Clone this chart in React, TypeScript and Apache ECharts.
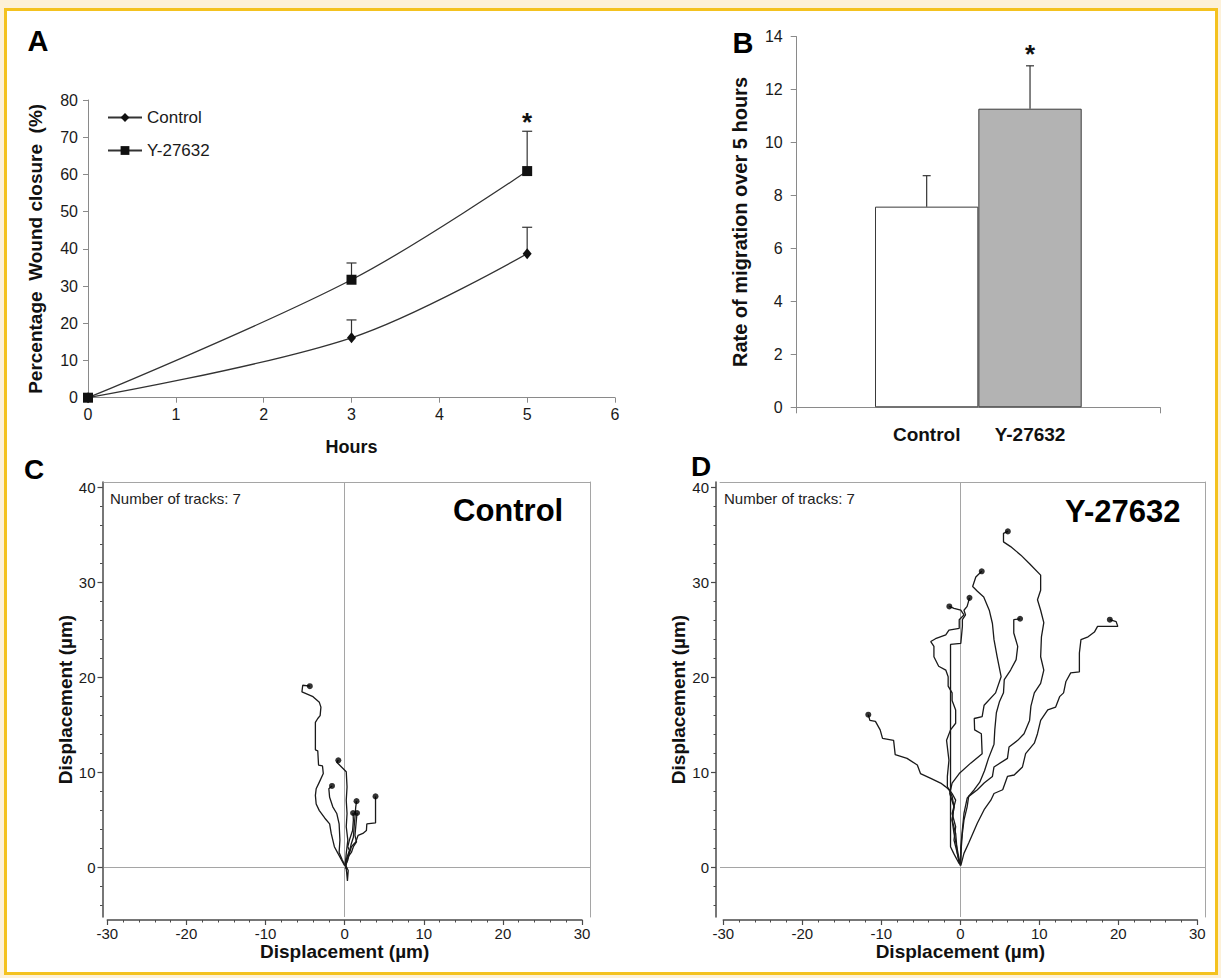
import { useEffect, useRef } from "react";
import * as echarts from "echarts";

const FONT = '"Liberation Sans", Arial, Helvetica, sans-serif';

// ---------- Panel A: wound closure ----------
const hours = [0, 3, 5];
const controlClosure = [0, 16.1, 38.7];
const controlClosureErr = [0, 4.8, 7.1];
const y27632Closure = [0, 31.7, 60.9];
const y27632ClosureErr = [0, 4.5, 10.7];
const y27632ClosureSig = [0, 0, 1];

// ---------- Panel B: migration rate ----------
const groups = ["Control", "Y-27632"];
const migrationRate = [7.58, 11.28];
const migrationErr = [1.17, 1.62];
const migrationSig = [0, 1];
const barFills = ["#ffffff", "#b3b3b3"];

// ---------- Panels C / D: displacement ticks ----------
const dispXTicks = [-30, -20, -10, 0, 10, 20, 30];
const dispYMinor = [-4, -2, 0, 2, 4, 6, 8, 10, 12, 14, 16, 18, 20, 22, 24, 26, 28, 30, 32, 34, 36, 38, 40];
const dispYMajor = [0, 10, 20, 30, 40];

// tracks: first point is the end point (dot), last point is the origin
const controlTracks: number[][][] = [
  [[-4.4, 19.1], [-5.3, 19.2], [-5.4, 18.5], [-4.0, 18.0], [-3.2, 17.4], [-3.0, 16.9], [-3.1, 16.0], [-3.4, 15.7], [-3.7, 15.3], [-3.7, 12.4], [-3.4, 12.3], [-3.3, 10.8], [-2.8, 10.7], [-2.7, 9.9], [-3.2, 9.0], [-3.6, 8.3], [-3.7, 7.6], [-3.6, 6.7], [-3.2, 6.0], [-2.5, 5.2], [-1.9, 4.6], [-1.7, 3.6], [-1.3, 2.2], [-0.85, 1.5], [-0.4, 0.8], [0, 0.2]],
  [[-0.8, 11.3], [-1.0, 11.1], [-0.4, 10.6], [0.2, 10.1], [0.3, 8.5], [0.2, 7.1], [0.3, 5.7], [0.2, 4.3], [0.4, 2.9], [0.2, 1.5], [0.1, 0.5], [0.25, -0.5], [0.35, -1.4], [0.45, -0.3], [0.1, 0.3]],
  [[-1.6, 8.6], [-2.0, 8.3], [-1.9, 7.4], [-1.5, 6.4], [-1.0, 5.7], [-0.7, 4.6], [-0.6, 2.9], [-0.7, 1.6], [-0.3, 0.8], [0, 0.3]],
  [[3.9, 7.5], [3.9, 4.7], [2.8, 4.6], [2.75, 3.9], [2.3, 3.6], [1.7, 3.4], [1.4, 2.7], [0.85, 2.2], [0.6, 1.5], [0.4, 0.8], [0.1, 0.2]],
  [[1.5, 7.0], [1.4, 6.4], [1.3, 5.3], [1.2, 4.3], [1.1, 3.2], [0.8, 2.4], [0.55, 1.5], [0.2, 0.6], [0.05, 0.2]],
  [[1.06, 5.75], [1.1, 5.0], [1.0, 3.9], [0.6, 2.9], [0.4, 2.2], [0.6, 1.8], [0.3, 1.1], [0.1, 0.6], [0.1, 0.2]],
  [[1.57, 5.75], [1.5, 5.2], [1.4, 4.3], [1.3, 3.4], [1.5, 2.7], [1.1, 2.2], [0.85, 1.6], [0.4, 1.1], [0.2, 0.4], [0.1, -0.1]],
];

const y27632Tracks: number[][][] = [
  [[6.05, 35.4], [5.5, 35.2], [5.5, 34.3], [6.4, 33.8], [7.7, 32.9], [8.8, 32.0], [10.2, 30.8], [10.2, 29.2], [10.0, 28.7], [9.8, 28.2], [10.2, 27.1], [10.6, 25.8], [10.3, 24.3], [10.2, 22.2], [10.6, 20.8], [10.2, 19.4], [9.4, 18.4], [8.97, 17.0], [8.8, 15.5], [8.1, 14.1], [7.3, 13.4], [6.2, 12.7], [6.0, 11.5], [4.3, 10.6], [4.1, 9.6], [3.05, 8.9], [2.2, 8.2], [1.1, 7.5], [0.9, 6.4], [0.5, 5.0], [0.3, 3.6], [0.17, 2.2], [0.1, 0.5], [0, 0.2]],
  [[2.75, 31.2], [2.0, 30.6], [1.6, 29.6], [2.2, 29.1], [3.0, 28.5], [3.7, 27.1], [4.1, 25.7], [4.3, 24.0], [4.7, 22.2], [5.2, 20.1], [4.5, 18.4], [3.05, 17.1], [2.8, 15.9], [1.8, 15.7], [1.85, 14.5], [2.7, 14.1], [2.8, 12.0], [1.35, 11.0], [-0.1, 9.9], [-1.0, 8.9], [-1.3, 7.8], [-0.76, 6.4], [-1.0, 5.0], [-0.55, 3.6], [-0.34, 1.5], [0, 0.3]],
  [[7.6, 26.2], [6.8, 26.1], [6.8, 24.7], [7.3, 23.3], [7.1, 21.9], [6.4, 20.8], [5.6, 19.8], [5.5, 18.4], [5.0, 17.5], [4.6, 16.3], [4.4, 14.5], [4.3, 13.0], [3.6, 11.5], [3.1, 10.2], [2.5, 9.0], [1.8, 8.2], [0.9, 7.3], [0.5, 5.7], [0.3, 4.0], [0.1, 2.2], [0.05, 0.3]],
  [[1.2, 28.4], [0.9, 27.5], [0.5, 27.1], [0.7, 26.6], [0.3, 26.1], [0.3, 25.4], [0.1, 23.6], [-1.2, 23.5], [-1.2, 2.2], [-0.8, 1.5], [-0.1, 0.4]],
  [[-1.35, 27.5], [-0.76, 27.3], [0.1, 27.1], [0.5, 26.6], [-0.1, 26.1], [-0.1, 25.2], [-1.4, 25.0], [-1.8, 24.5], [-3.1, 24.1], [-3.7, 23.8], [-3.3, 23.3], [-3.3, 22.2], [-2.7, 21.2], [-1.8, 20.8], [-1.5, 20.1], [-1.5, 19.1], [-1.0, 18.4], [-1.0, 17.6], [-0.55, 16.6], [-0.55, 15.2], [-1.2, 14.5], [-1.7, 13.4], [-1.4, 11.3], [-1.6, 9.6], [-1.6, 8.5], [-1.0, 7.8], [-0.55, 7.1], [-1.0, 5.7], [-0.55, 4.3], [-0.76, 2.9], [-0.34, 1.5], [-0.1, 0.5]],
  [[-11.6, 16.1], [-11.4, 15.5], [-10.7, 15.4], [-10.1, 14.5], [-9.8, 13.6], [-8.4, 13.4], [-8.2, 11.9], [-6.7, 11.5], [-5.4, 10.8], [-5.0, 9.9], [-3.7, 9.4], [-2.45, 8.9], [-1.8, 8.5], [-1.4, 8.2], [-1.0, 7.5], [-0.76, 6.4], [-1.0, 5.0], [-0.76, 3.6], [-0.34, 1.9], [0, 0.4]],
  [[18.95, 26.1], [19.75, 25.9], [19.96, 25.4], [19.1, 25.4], [17.4, 25.4], [17.0, 24.8], [16.2, 24.3], [15.3, 24.0], [15.1, 22.6], [15.1, 20.6], [14.0, 20.5], [13.4, 19.6], [13.1, 18.4], [12.6, 18.0], [12.1, 16.9], [11.1, 16.6], [10.2, 15.5], [9.8, 14.1], [9.4, 13.1], [8.3, 12.0], [7.9, 10.6], [6.85, 9.75], [6.0, 9.6], [5.4, 8.2], [4.3, 7.8], [3.9, 7.1], [3.05, 6.1], [2.2, 4.7], [1.1, 2.6], [0.5, 1.5], [0.1, 0.2]],
];

const AXIS_GRAY = "#8a8a8a";
const DARK = "#4a4a4a";
const TEXT = "#1a1a1a";

function errorBarRenderer(capHalf: number, starGap: number) {
  return (_params: any, api: any) => {
    const x = api.value(0);
    const y = api.value(1);
    const e = api.value(2);
    const sig = api.value(3);
    const base = api.coord([x, y]);
    const top = api.coord([x, y + e]);
    const style = { stroke: "#333", lineWidth: 1.2 };
    const children: any[] = [];
    if (e > 0) {
      children.push({ type: "line", shape: { x1: base[0], y1: base[1], x2: top[0], y2: top[1] }, style });
      children.push({ type: "line", shape: { x1: top[0] - capHalf, y1: top[1], x2: top[0] + capHalf, y2: top[1] }, style });
    }
    if (sig) {
      children.push({
        type: "text",
        x: top[0],
        y: top[1] - starGap,
        style: { text: "*", fontSize: 26, fontWeight: "bold", fontFamily: FONT, fill: "#111", textAlign: "center", textVerticalAlign: "middle" },
      });
    }
    return { type: "group", children };
  };
}

const DISP_YMIN = -5.2;
const DISP_YMAX = 40.6;

function frameX(grid: number, min: number, max: number) {
  return {
    type: "value", gridIndex: grid, position: "top", min, max,
    axisLine: { show: true, onZero: false, lineStyle: { color: "#a5a5a5", width: 1 } },
    axisTick: { show: false }, axisLabel: { show: false }, splitLine: { show: false },
  };
}
function scaleX(grid: number) {
  return {
    type: "value", gridIndex: grid, position: "bottom", offset: 3, min: dispXTicks[0], max: dispXTicks[dispXTicks.length - 1], interval: 10,
    axisLine: { show: true, onZero: false, lineStyle: { color: DARK, width: 1.5 } },
    axisTick: { show: true, length: 5, lineStyle: { color: DARK, width: 1.2 } },
    minorTick: { show: true, splitNumber: 5, length: 2.5, lineStyle: { color: DARK, width: 1 } },
    axisLabel: { fontSize: 15, color: TEXT, margin: 6, fontFamily: FONT },
    splitLine: { show: false }, minorSplitLine: { show: false },
    name: "Displacement (µm)", nameLocation: "middle", nameGap: 20,
    nameTextStyle: { fontSize: 19, fontWeight: "bold", color: "#111", fontFamily: FONT },
  };
}
function tickY(grid: number, offset: number) {
  return {
    type: "value", gridIndex: grid, position: "left", offset, min: DISP_YMIN, max: DISP_YMAX,
    axisLine: { show: true, onZero: false, lineStyle: { color: DARK, width: 1.5 } },
    axisTick: { show: true, customValues: dispYMinor, length: 2.5, lineStyle: { color: DARK, width: 1 } },
    axisLabel: { show: true, customValues: dispYMajor, fontSize: 15, color: TEXT, margin: 7, fontFamily: FONT },
    splitLine: { show: false },
    name: "Displacement (µm)", nameLocation: "middle", nameRotate: 90, nameGap: 27,
    nameTextStyle: { fontSize: 19, fontWeight: "bold", color: "#111", fontFamily: FONT },
  };
}
function majorY(grid: number, offset: number) {
  return {
    type: "value", gridIndex: grid, position: "left", offset, min: DISP_YMIN, max: DISP_YMAX,
    axisLine: { show: false, onZero: false },
    axisTick: { show: true, customValues: dispYMajor, length: 5, lineStyle: { color: DARK, width: 1.2 } },
    axisLabel: { show: false }, splitLine: { show: false },
  };
}
function rightY(grid: number) {
  return {
    type: "value", gridIndex: grid, position: "right", min: DISP_YMIN, max: DISP_YMAX,
    axisLine: { show: true, onZero: false, lineStyle: { color: "#a5a5a5", width: 1 } },
    axisTick: { show: false }, axisLabel: { show: false }, splitLine: { show: false },
  };
}
function hiddenY(grid: number) {
  return { type: "value", gridIndex: grid, min: DISP_YMIN, max: DISP_YMAX, show: false, splitLine: { show: false } };
}

function trackSeries(tracks: number[][][], xIdx: number, yIdx: number) {
  const lines = tracks.map((t) => ({
    type: "line", xAxisIndex: xIdx, yAxisIndex: yIdx, data: t, symbol: "none", showSymbol: false,
    lineStyle: { color: "#1a1a1a", width: 1.3 }, silent: true, z: 3, clip: false,
  }));
  const dots = {
    type: "scatter", xAxisIndex: xIdx, yAxisIndex: yIdx, data: tracks.map((t) => t[0]),
    symbol: "circle", symbolSize: 6, itemStyle: { color: "#000" }, silent: true, z: 4,
    markLine: {
      silent: true, symbol: ["none", "none"], label: { show: false },
      lineStyle: { color: "#a5a5a5", width: 1, type: "solid" },
      data: [{ xAxis: 0 }, { yAxis: 0 }],
      z: 1,
    },
  };
  return [...lines, dots];
}

export default function App() {
  const ref = useRef<HTMLDivElement>(null);

  useEffect(() => {
    if (!ref.current) return;
    const chart = echarts.init(ref.current, null, { renderer: "svg" });

    const axisCommonA = {
      axisLine: { show: true, onZero: false, lineStyle: { color: AXIS_GRAY, width: 1 } },
      axisTick: { show: true, length: 5, lineStyle: { color: AXIS_GRAY, width: 1 } },
      splitLine: { show: false },
    };

    const option: any = {
      animation: false,
      backgroundColor: "#fdf1d8",
      textStyle: { fontFamily: FONT },
      grid: [
        { left: 88, top: 100, width: 527, height: 297.7, containLabel: false, outerBoundsMode: "none" },
        { left: 796.7, top: 36.7, width: 363.3, height: 370.6, containLabel: false, outerBoundsMode: "none" },
        { left: 875, top: 36.7, width: 206.7, height: 370.6, containLabel: false, outerBoundsMode: "none" },
        { left: 104, top: 482, width: 486, height: 435, containLabel: false, outerBoundsMode: "none" },
        { left: 107.3, top: 482, width: 474.7, height: 435, containLabel: false, outerBoundsMode: "none" },
        { left: 720, top: 482, width: 485, height: 435, containLabel: false, outerBoundsMode: "none" },
        { left: 723.3, top: 482, width: 474, height: 435, containLabel: false, outerBoundsMode: "none" },
      ],
      legend: {
        data: ["Control", "Y-27632"],
        orient: "vertical", left: 107, top: 109, padding: 0,
        itemWidth: 34, itemHeight: 11, itemGap: 16, selectedMode: false,
        textStyle: { fontSize: 17, color: TEXT, fontFamily: FONT },
      },
      xAxis: [
        {
          type: "value", gridIndex: 0, min: hours[0], max: 6, interval: 1, ...axisCommonA,
          axisLabel: { fontSize: 16, color: TEXT, margin: 9, fontFamily: FONT },
          name: "Hours", nameLocation: "middle", nameGap: 40,
          nameTextStyle: { fontSize: 18, fontWeight: "bold", color: "#111", fontFamily: FONT },
        },
        {
          type: "value", gridIndex: 1, min: 0, max: 1, interval: 1, ...axisCommonA,
          axisTick: { show: true, length: 6, lineStyle: { color: AXIS_GRAY, width: 1 } },
          axisLabel: { show: false },
        },
        {
          type: "category", gridIndex: 2, data: groups,
          axisLine: { show: false }, axisTick: { show: false }, splitLine: { show: false },
          axisLabel: { fontSize: 19, fontWeight: "bold", color: "#111", margin: 18, fontFamily: FONT },
        },
        frameX(3, -30.41, 31.0),
        scaleX(4),
        frameX(5, -30.36, 30.99),
        scaleX(6),
      ],
      yAxis: [
        {
          type: "value", gridIndex: 0, min: 0, max: 80, interval: 10, ...axisCommonA,
          axisLabel: { fontSize: 16, color: TEXT, margin: 10, fontFamily: FONT },
          name: "Percentage  Wound closure  (%)", nameLocation: "middle", nameRotate: 90, nameGap: 43,
          nameTextStyle: { fontSize: 19, fontWeight: "bold", color: "#111", fontFamily: FONT },
        },
        {
          type: "value", gridIndex: 1, min: 0, max: 14, interval: 2, ...axisCommonA,
          axisTick: { show: true, length: 6, lineStyle: { color: AXIS_GRAY, width: 1 } },
          axisLabel: { fontSize: 16, color: TEXT, margin: 14, fontFamily: FONT },
          name: "Rate of migration over 5 hours", nameLocation: "middle", nameRotate: 90, nameGap: 47,
          nameTextStyle: { fontSize: 20, fontWeight: "bold", color: "#111", fontFamily: FONT },
        },
        { type: "value", gridIndex: 2, min: 0, max: 14, show: false, splitLine: { show: false } },
        tickY(3, 1.5),
        majorY(3, 1.5),
        rightY(3),
        hiddenY(4),
        tickY(5, 4),
        majorY(5, 4),
        rightY(5),
        hiddenY(6),
      ],
      series: [
        {
          type: "custom", name: "errControl", xAxisIndex: 0, yAxisIndex: 0, clip: false, z: 2,
          renderItem: errorBarRenderer(5, 9),
          data: hours.map((h, i) => [h, controlClosure[i], controlClosureErr[i], 0]),
        },
        {
          type: "custom", name: "errY", xAxisIndex: 0, yAxisIndex: 0, clip: false, z: 2,
          renderItem: errorBarRenderer(5, 9),
          data: hours.map((h, i) => [h, y27632Closure[i], y27632ClosureErr[i], y27632ClosureSig[i]]),
        },
        {
          type: "line", name: "Control", xAxisIndex: 0, yAxisIndex: 0, smooth: 0.35,
          data: hours.map((h, i) => [h, controlClosure[i]]),
          symbol: "diamond", symbolSize: [9, 11],
          lineStyle: { color: "#333", width: 1.3 }, itemStyle: { color: "#111" }, z: 3,
        },
        {
          type: "line", name: "Y-27632", xAxisIndex: 0, yAxisIndex: 0, smooth: 0.35,
          data: hours.map((h, i) => [h, y27632Closure[i]]),
          symbol: "rect", symbolSize: 10,
          lineStyle: { color: "#333", width: 1.3 }, itemStyle: { color: "#111" }, z: 3,
        },
        {
          type: "bar", xAxisIndex: 2, yAxisIndex: 2, barCategoryGap: "0%",
          data: migrationRate.map((v, i) => ({ value: v, itemStyle: { color: barFills[i] } })),
          itemStyle: { borderColor: "#3a3a3a", borderWidth: 1 }, z: 2,
        },
        {
          type: "custom", xAxisIndex: 2, yAxisIndex: 2, clip: false, z: 3,
          renderItem: errorBarRenderer(4, 12),
          data: migrationRate.map((v, i) => [i, v, migrationErr[i], migrationSig[i]]),
        },
        ...trackSeries(controlTracks, 3, 3),
        ...trackSeries(y27632Tracks, 5, 7),
      ],
      graphic: [
        {
          type: "rect", z: -10, silent: true,
          shape: { x: 5.5, y: 9.5, width: 1211, height: 964 },
          style: { fill: "#ffffff", stroke: "#f4c21f", lineWidth: 3 },
        },
        { type: "text", x: 38, y: 41, style: { text: "A", fontSize: 29, fontWeight: "bold", fontFamily: FONT, fill: "#000", textAlign: "center", textVerticalAlign: "middle" } },
        { type: "text", x: 743, y: 43, style: { text: "B", fontSize: 29, fontWeight: "bold", fontFamily: FONT, fill: "#000", textAlign: "center", textVerticalAlign: "middle" } },
        { type: "text", x: 34, y: 469, style: { text: "C", fontSize: 28, fontWeight: "bold", fontFamily: FONT, fill: "#000", textAlign: "center", textVerticalAlign: "middle" } },
        { type: "text", x: 701, y: 466, style: { text: "D", fontSize: 28, fontWeight: "bold", fontFamily: FONT, fill: "#000", textAlign: "center", textVerticalAlign: "middle" } },
        { type: "text", x: 110, y: 498, style: { text: "Number of tracks: 7", fontSize: 15, fontFamily: FONT, fill: "#222", textAlign: "left", textVerticalAlign: "middle" } },
        { type: "text", x: 453, y: 510, style: { text: "Control", fontSize: 31, fontWeight: "bold", fontFamily: FONT, fill: "#000", textAlign: "left", textVerticalAlign: "middle" } },
        { type: "text", x: 724, y: 498, style: { text: "Number of tracks: 7", fontSize: 15, fontFamily: FONT, fill: "#222", textAlign: "left", textVerticalAlign: "middle" } },
        { type: "text", x: 1065, y: 511, style: { text: "Y-27632", fontSize: 31, fontWeight: "bold", fontFamily: FONT, fill: "#000", textAlign: "left", textVerticalAlign: "middle" } },
      ],
    };

    chart.setOption(option);
    return () => chart.dispose();
  }, []);

  return <div ref={ref} style={{ position: "absolute", left: 0, top: 0, width: 1221, height: 978 }} />;
}
